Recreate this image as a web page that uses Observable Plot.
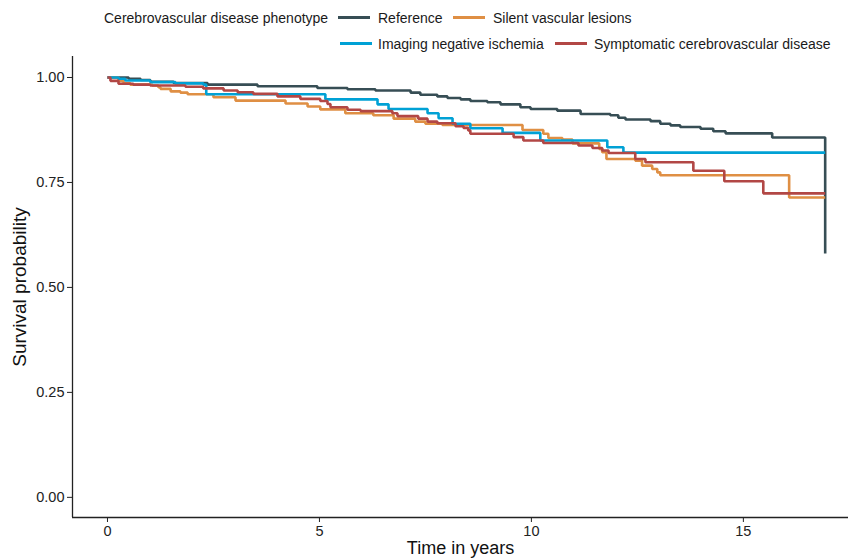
<!DOCTYPE html>
<html>
<head>
<meta charset="utf-8">
<script src="https://cdn.jsdelivr.net/npm/d3@7"></script>
<script src="https://cdn.jsdelivr.net/npm/@observablehq/plot@0.6"></script>
<style>
  html, body { margin: 0; padding: 0; background: #fff; }
  #wrap { position: relative; width: 850px; height: 559px; overflow: hidden; font-family: "Liberation Sans", Arial, sans-serif; }
  #wrap svg { position: absolute; left: 0; top: 0; }
  .lg { position: absolute; font-size: 14px; color: #1a1a1a; white-space: nowrap; line-height: 1; }
  .key { position: absolute; height: 3px; width: 32px; }
</style>
</head>
<body>
<div id="wrap"></div>
<script>
// ---- data ----
const groups = ["Reference", "Silent vascular lesions", "Imaging negative ischemia", "Symptomatic cerebrovascular disease"];
const colors = ["#374E55", "#DF8F44", "#00A1D5", "#B24745"];
const legendTitle = "Cerebrovascular disease phenotype";

const refTime = [0, 0.50, 0.78, 1.01, 1.56, 2.36, 3.54, 4.95, 5.66, 6.32, 7.15, 7.38, 7.78, 8.02, 8.33, 8.56, 8.96, 9.27, 9.74, 9.98, 10.61, 11.16, 11.86, 12.05, 12.22, 12.81, 13.04, 13.28, 13.51, 13.99, 14.29, 14.58, 15.68, 16.93, 16.93];
const refSurv = [1.000, 0.997, 0.994, 0.990, 0.987, 0.983, 0.979, 0.975, 0.972, 0.969, 0.964, 0.959, 0.955, 0.951, 0.948, 0.944, 0.941, 0.936, 0.929, 0.925, 0.921, 0.913, 0.910, 0.904, 0.900, 0.896, 0.890, 0.886, 0.882, 0.878, 0.872, 0.867, 0.857, 0.857, 0.581];

const silTime = [0, 0.26, 0.38, 0.54, 1.06, 1.20, 1.25, 1.49, 1.72, 1.89, 2.50, 3.02, 4.20, 4.72, 5.02, 5.61, 6.27, 6.75, 7.26, 7.50, 7.90, 9.79, 10.28, 10.40, 10.73, 10.97, 11.60, 11.67, 11.77, 12.45, 12.61, 12.85, 12.97, 13.04, 16.08, 16.93];
const silSurv = [1.000, 0.992, 0.986, 0.983, 0.981, 0.977, 0.973, 0.967, 0.964, 0.960, 0.953, 0.945, 0.938, 0.931, 0.924, 0.915, 0.910, 0.902, 0.895, 0.890, 0.887, 0.875, 0.866, 0.856, 0.852, 0.843, 0.830, 0.822, 0.806, 0.802, 0.790, 0.782, 0.774, 0.767, 0.714, 0.714];

const imgTime = [0, 0.26, 0.42, 1.01, 1.60, 2.26, 2.33, 5.14, 6.37, 6.63, 7.55, 7.81, 8.14, 8.56, 9.32, 10.21, 11.79, 12.17, 16.93];
const imgSurv = [1.000, 0.997, 0.993, 0.989, 0.986, 0.983, 0.960, 0.948, 0.936, 0.925, 0.915, 0.903, 0.890, 0.879, 0.868, 0.850, 0.834, 0.821, 0.821];

const symTime = [0, 0.07, 0.26, 0.61, 1.01, 1.84, 2.26, 2.74, 3.07, 3.44, 4.01, 4.55, 5.02, 5.19, 5.26, 5.66, 5.97, 6.72, 6.84, 7.33, 7.55, 7.78, 8.21, 8.40, 8.51, 8.56, 9.58, 9.81, 10.28, 11.11, 11.44, 11.67, 11.82, 12.45, 12.69, 13.82, 14.55, 15.47, 16.93];
const symSurv = [1.000, 0.992, 0.985, 0.983, 0.981, 0.978, 0.974, 0.969, 0.965, 0.961, 0.955, 0.949, 0.944, 0.937, 0.929, 0.923, 0.920, 0.915, 0.908, 0.902, 0.895, 0.891, 0.884, 0.880, 0.874, 0.866, 0.858, 0.850, 0.844, 0.838, 0.832, 0.826, 0.820, 0.806, 0.798, 0.778, 0.753, 0.724, 0.724];

const xTicks = [0, 5, 10, 15];
const yTicks = [0, 0.25, 0.5, 0.75, 1];
const xLabel = "Time in years";
const yLabel = "Survival probability";

// ---- build table ----
const series = [[refTime, refSurv], [silTime, silSurv], [imgTime, imgSurv], [symTime, symSurv]];
const rows = [];
series.forEach(([t, s], gi) => t.forEach((tt, i) => rows.push({group: groups[gi], time: tt, surv: s[i]})));

const xDom = [-0.825, 17.48];
const yDom = [-0.048, 1.05];

const chart = Plot.plot({
  width: 850,
  height: 559,
  marginLeft: 72,
  marginRight: 2,
  marginTop: 56,
  marginBottom: 42,
  style: {fontFamily: "Liberation Sans, Arial, sans-serif", background: "transparent", overflow: "visible"},
  x: {domain: xDom, label: null},
  y: {domain: yDom, label: null},
  color: {domain: groups, range: colors},
  marks: [
    Plot.line(rows, {x: "time", y: "surv", z: "group", stroke: "group", strokeWidth: 2.6, curve: "step-after", strokeLinejoin: "miter", strokeLinecap: "butt"}),
    Plot.ruleX([xDom[0]], {stroke: "#222", strokeWidth: 1.3}),
    Plot.ruleY([yDom[0]], {stroke: "#222", strokeWidth: 1.3}),
    Plot.axisX({ticks: xTicks, tickFormat: d => String(d), tickSize: 5, tickPadding: 3, fontSize: 14.5, color: "#222", label: null}),
    Plot.axisY({ticks: yTicks, tickFormat: d3.format(".2f"), tickSize: 5, tickPadding: 3, fontSize: 14.5, color: "#222", label: null}),
    Plot.text([xLabel], {frameAnchor: "bottom", dy: 31, fontSize: 18, fill: "#111", lineAnchor: "middle"}),
    Plot.text([yLabel], {frameAnchor: "left", dx: -53, rotate: -90, textAnchor: "middle", fontSize: 19, fill: "#111"})
  ]
});

const wrap = document.getElementById("wrap");
wrap.appendChild(chart);

// ---- legend (HTML, above the panel) ----
function addText(txt, x, y) {
  const d = document.createElement("div");
  d.className = "lg"; d.textContent = txt;
  d.style.left = x + "px"; d.style.top = y + "px";
  wrap.appendChild(d);
}
function addKey(color, x, y) {
  const d = document.createElement("div");
  d.className = "key"; d.style.background = color;
  d.style.left = x + "px"; d.style.top = y + "px";
  wrap.appendChild(d);
}
addText(legendTitle, 104, 11);
addKey(colors[0], 338, 16); addText(groups[0], 378, 11);
addKey(colors[1], 453, 16); addText(groups[1], 493, 11);
addKey(colors[2], 340, 42); addText(groups[2], 378, 37);
addKey(colors[3], 555, 42); addText(groups[3], 594, 37);
</script>
</body>
</html>
